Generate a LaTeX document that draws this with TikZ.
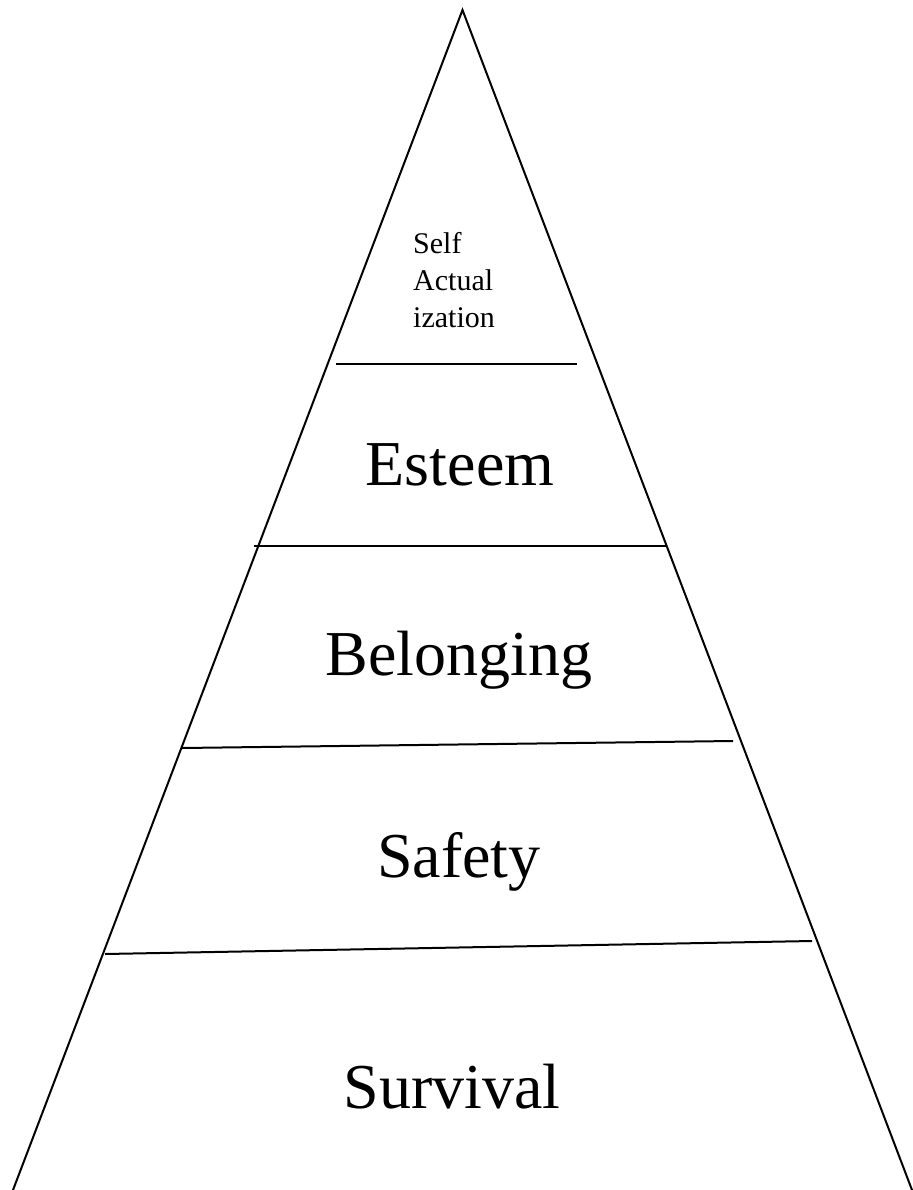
\documentclass[tikz,border=0pt]{standalone}
\usepackage{fontspec}
\setmainfont{Liberation Serif}
\begin{document}
\begin{tikzpicture}[x=1pt,y=-1pt,
  edge/.style={line width=2pt, line cap=round, line join=miter},
  tier/.style={line width=2pt},
  big/.style={anchor=base, inner sep=0pt, font=\fontsize{64}{70}\selectfont},
  small/.style={anchor=north west, inner sep=0pt, align=left, font=\fontsize{30}{37}\selectfont}]
\useasboundingbox (0,0) rectangle (912,1190);
\coordinate (apex) at (462.5,10);
\coordinate (bl) at (13,1190);
\coordinate (br) at (912,1190);
\draw[edge] (bl) -- (apex) -- (br);
\coordinate (l1a) at (336,364); \coordinate (l1b) at (577,364);
\coordinate (l2a) at (254,546); \coordinate (l2b) at (666,546);
\coordinate (l3a) at (182,748); \coordinate (l3b) at (733,741);
\coordinate (l4a) at (105,954); \coordinate (l4b) at (812,941);
\draw[tier] (l1a) -- (l1b);
\draw[tier] (l2a) -- (l2b);
\draw[tier] (l3a) -- (l3b);
\draw[tier] (l4a) -- (l4b);
\node[small] (self) at (413,232) {Self\\Actual\\ization};
\node[big] (esteem) at (460,485) {Esteem};
\node[big] (belong) at (459,675) {Belonging};
\node[big] (safety) at (459,877) {Safety};
\node[big] (surv) at (452,1108) {Survival};
\end{tikzpicture}
\end{document}
